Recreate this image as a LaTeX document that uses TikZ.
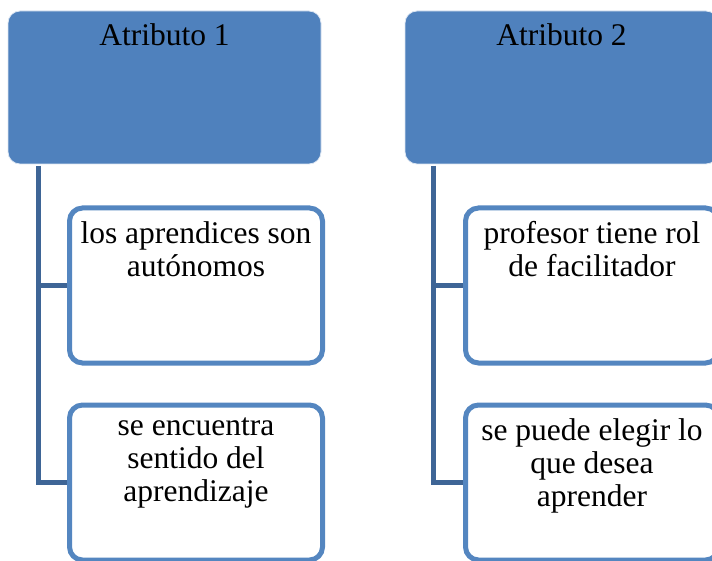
\documentclass[tikz,border=0pt]{standalone}
\usepackage{fontspec}
\setmainfont{Liberation Serif}
\usepackage{tikz}
\usetikzlibrary{positioning}

\definecolor{hdrblue}{RGB}{79,129,189}
\definecolor{boxblue}{RGB}{84,134,192}
\definecolor{linkblue}{RGB}{62,101,150}

\tikzset{
    header/.style={rectangle, rounded corners=12pt, fill=hdrblue, draw=white!80!hdrblue, line width=0.8pt,
        minimum width=313pt, minimum height=153pt, inner sep=0pt},
    itembox/.style={rectangle, rounded corners=13pt, fill=white, draw=boxblue, line width=5pt,
        minimum width=253pt, minimum height=155pt, inner sep=0pt},
    txt/.style={inner sep=0pt, align=center, font=\fontsize{31.5}{33}\selectfont},
    link/.style={draw=linkblue, line width=5pt}
}

\begin{document}
\begin{tikzpicture}[x=1pt, y=-1pt]
        \useasboundingbox (0,0) rectangle (712,561);
        \clip (0,0) rectangle (712,561);

        % Attribute 1 column
        \node[header] (attr1) at (164.5,87.5) {};
        \node[txt, anchor=north] (attr1txt) at ([yshift=-12.5pt]attr1.north) {Atributo 1};

        \node[itembox] (item11) at (196,285.5) {};
        \node[txt, anchor=north] (item11txt) at ([yshift=-15.5pt]item11.north) {los aprendices son\\autónomos};

        \node[itembox] (item12) at (196,482.5) {};
        \node[txt, anchor=north] (item12txt) at ([yshift=-15.5pt]item12.north) {se encuentra\\sentido del\\aprendizaje};

        % Attribute 2 column
        \node[header] (attr2) at (561.5,87.5) {};
        \node[txt, anchor=north] (attr2txt) at ([yshift=-12.5pt]attr2.north) {Atributo 2};

        \node[itembox] (item21) at (592,285.5) {};
        \node[txt, anchor=north] (item21txt) at ([yshift=-15.5pt]item21.north) {profesor tiene rol\\de facilitador};

        \node[itembox] (item22) at (592,482.5) {};
        \node[txt, anchor=north] (item22txt) at ([yshift=-15.5pt]item22.north) {se puede elegir lo\\que desea\\aprender};

        % Connectors from the headers
        \coordinate (trunk1) at (38,166);
        \coordinate (trunk2) at (433,166);
        \draw[link] (trunk1) |- (item11.west);
        \draw[link] (trunk1) |- (item12.west);
        \draw[link] (trunk2) |- (item21.west);
        \draw[link] (trunk2) |- (item22.west);
    \end{tikzpicture}
\end{document}
